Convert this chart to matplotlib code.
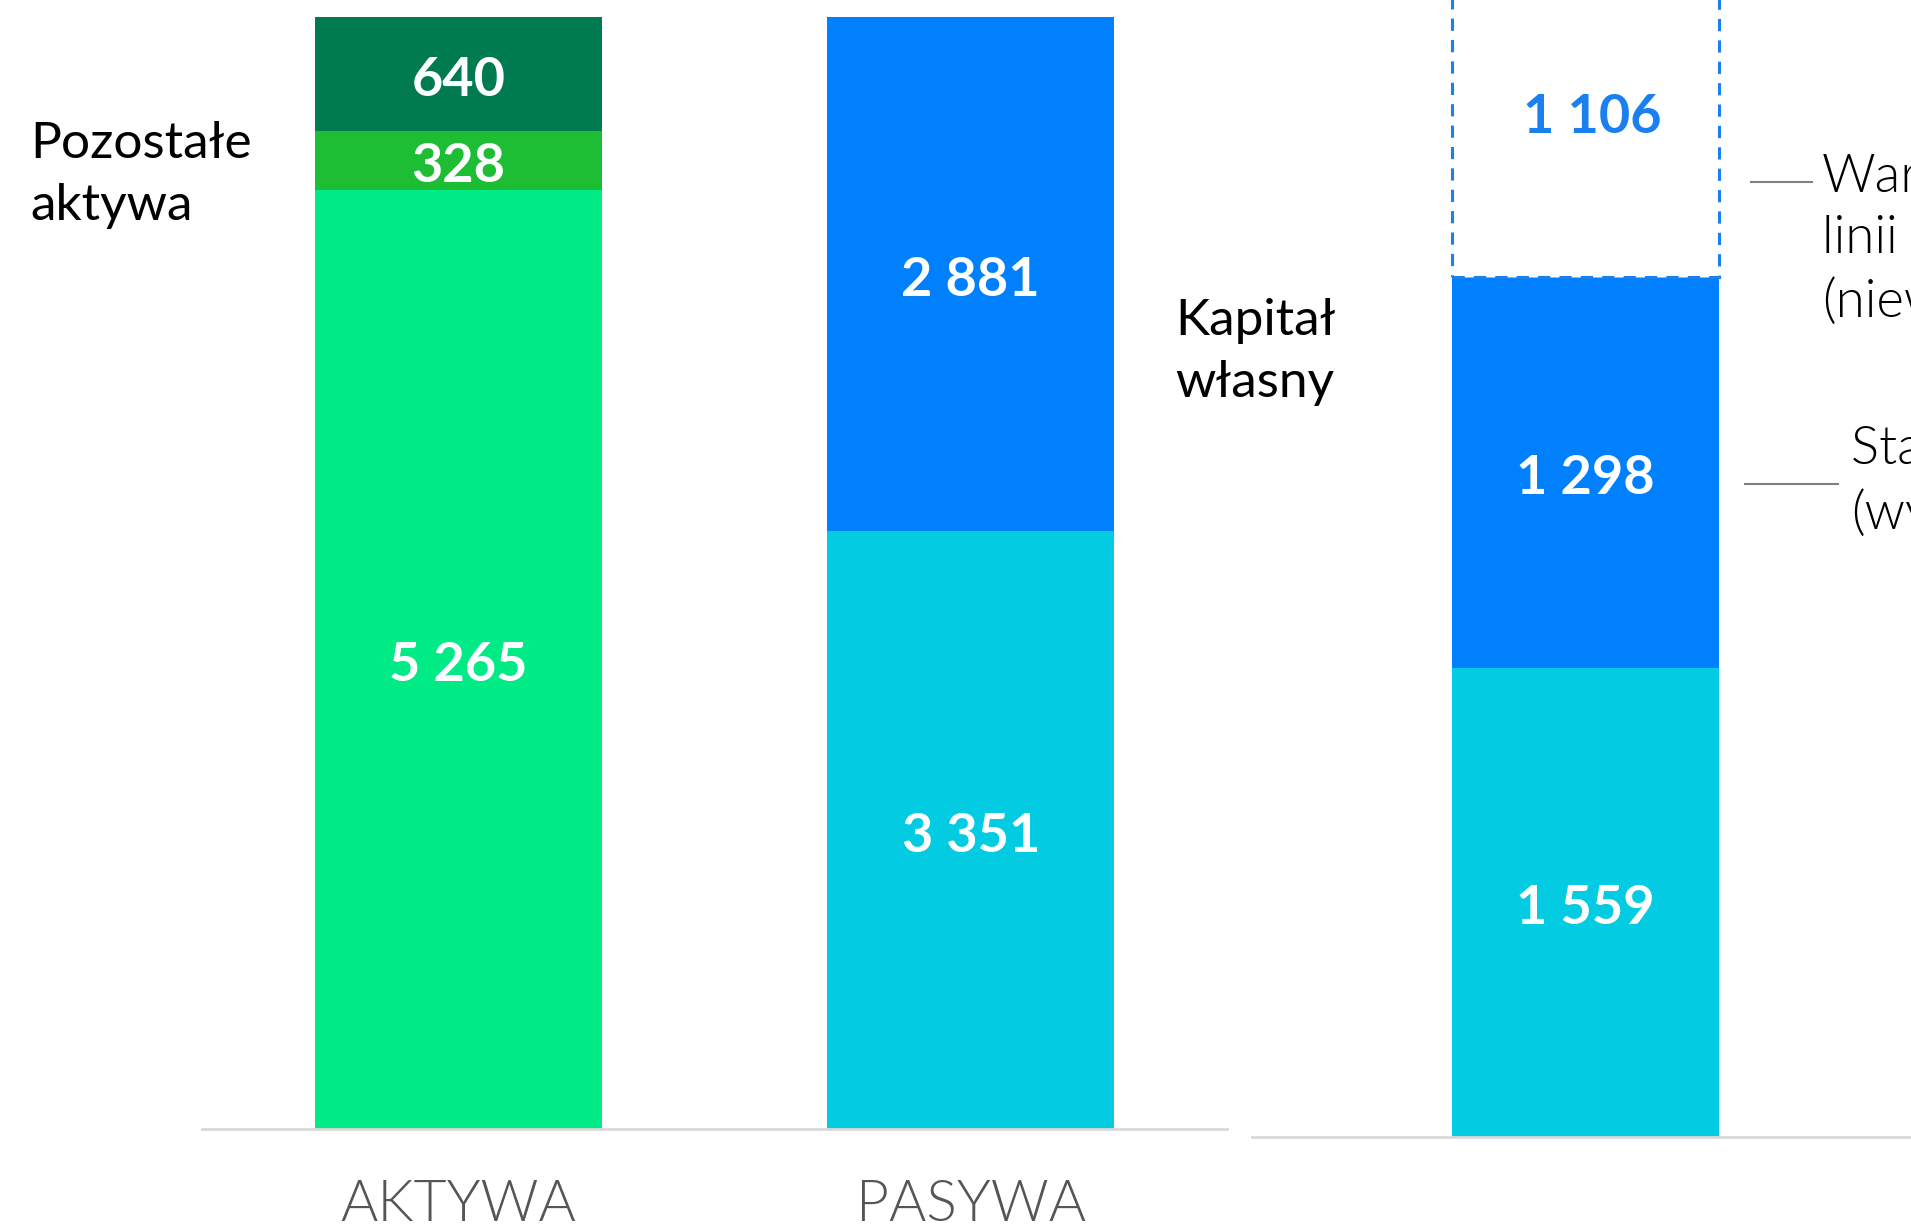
import matplotlib
matplotlib.use("Agg")
import matplotlib.pyplot as plt
from matplotlib.transforms import offset_copy

plt.rcParams['font.family'] = ['Lato', 'DejaVu Sans']

# ---- data ----
categories = ["AKTYWA", "PASYWA"]
aktywa_values = [5265, 328, 640]          # bottom -> top
aktywa_colors = ["#00EB85", "#1DBD34", "#007B50"]
pasywa_values = [3351, 2881]
pasywa_colors = ["#03CCE2", "#0080FD"]
right_values = [1559, 1298]
right_colors = ["#03CCE2", "#0080FD"]
right_unused = 1106
label_fmt = lambda v: f"{v:,}".replace(",", " ")

left_labels = ["Pozostałe\naktywa", "Kapitał\nwłasny"]
ann_labels = ["Wartość\nlinii kredytowej\n(niewykorzystana)", "Stan zadłużenia\n(wykorzystane)"]

W, H = 1911, 1225
fig = plt.figure(figsize=(W / 100, H / 100), dpi=100)

def fx(px):
    return px / W

def fy(py):
    return 1 - py / H

NUM_SIZE = 39
LBL_SIZE = 37
LIGHT = 300

# ---- left panel ----
ax = fig.add_axes([fx(202), 96 / H, 1025 / W, 1129 / H])
num_tr = offset_copy(ax.transData, fig=fig, x=0, y=-6, units="dots")
bw = 0.56
stacks = [(0, aktywa_values, aktywa_colors), (1, pasywa_values, pasywa_colors)]
for xpos, vals, cols in stacks:
    bottom = 0
    for v, c in zip(vals, cols):
        ax.bar(xpos, v, width=bw, bottom=bottom, color=c, linewidth=0)
        ax.text(xpos, bottom + v / 2, label_fmt(v), ha="center", va="center",
                color="white", fontsize=NUM_SIZE, fontweight="bold", transform=num_tr)
        bottom += v
ax.set_xlim(-0.5, 1.5)
ax.set_ylim(0, 6328)
for s in ["top", "left", "right"]:
    ax.spines[s].set_visible(False)
ax.spines["bottom"].set_color("#D9D9D9")
ax.spines["bottom"].set_linewidth(2)
ax.set_yticks([])
ax.set_xticks(range(len(categories)))
ax.set_xticklabels(categories, fontsize=41, color="#555555", fontweight=LIGHT)
ax.tick_params(axis="x", length=0, pad=37)

# ---- right panel ----
ax2 = fig.add_axes([fx(1252), 88 / H, 659 / W, 1137 / H])
num_tr2 = offset_copy(ax2.transData, fig=fig, x=0, y=-6, units="dots")
rbw = 267
bottom = 0
for v, c in zip(right_values, right_colors):
    ax2.bar(0, v, width=rbw, bottom=bottom, color=c, linewidth=0)
    ax2.text(0, bottom + v / 2, label_fmt(v), ha="center", va="center",
             color="white", fontsize=NUM_SIZE, fontweight="bold", transform=num_tr2)
    bottom += v
ax2.bar(0, right_unused, width=rbw, bottom=bottom, color="white",
        edgecolor="#1A80F0", linewidth=2.2, linestyle=(0, (4, 3)))
ax2.text(0, bottom + right_unused / 2, label_fmt(right_unused), ha="center", va="center",
         color="#1A80F0", fontsize=NUM_SIZE, fontweight="bold",
         transform=offset_copy(ax2.transData, fig=fig, x=7, y=-7, units="dots"))
ax2.set_xlim(-333, 326)
ax2.set_ylim(0, 3777)
for s in ["top", "left", "right"]:
    ax2.spines[s].set_visible(False)
ax2.spines["bottom"].set_color("#D9D9D9")
ax2.spines["bottom"].set_linewidth(2)
ax2.set_xticks([])
ax2.set_yticks([])

# ---- side labels ----
fig.text(fx(30), fy(175), left_labels[0], ha="left", va="center", fontsize=LBL_SIZE,
         color="black", linespacing=1.45)
fig.text(fx(1175), fy(352), left_labels[1], ha="left", va="center", fontsize=LBL_SIZE,
         color="black", linespacing=1.45)

# ---- annotations (cut by figure edge) ----
fig.add_artist(plt.Line2D([fx(1751), fx(1812)], [fy(182), fy(182)], color="#808080", lw=1.5))
fig.text(fx(1822), fy(240), ann_labels[0], ha="left", va="center", fontsize=38,
         color="black", fontweight=LIGHT, linespacing=1.36)
fig.add_artist(plt.Line2D([fx(1745), fx(1838)], [fy(484), fy(484)], color="#808080", lw=1.5))
fig.text(fx(1851), fy(482), ann_labels[1], ha="left", va="center", fontsize=38,
         color="black", fontweight=LIGHT, linespacing=1.36)

fig.savefig("out.png", dpi=100, facecolor="white")
